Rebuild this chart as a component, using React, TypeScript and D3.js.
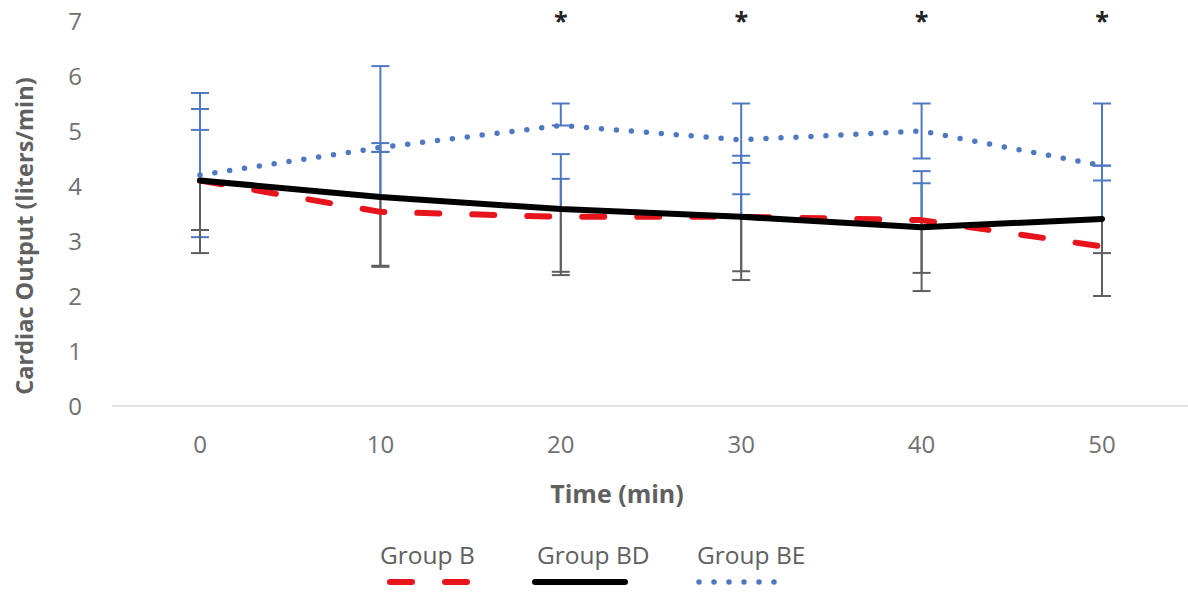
import React from 'react'
import * as d3 from 'd3'

// time points (min)
const times = ['0', '10', '20', '30', '40', '50']

// mean cardiac output per group
const groupB = [4.1, 3.53, 3.44, 3.44, 3.38, 2.9]
const groupBD = [4.1, 3.8, 3.58, 3.44, 3.25, 3.4]
const groupBE = [4.2, 4.7, 5.1, 4.84, 5.0, 4.37]

// error bar ends (upper / lower)
const groupBHi = [5.02, 4.62, 4.58, 4.55, 4.27, 4.37]
const groupBLo = [3.2, 2.53, 2.38, 2.29, 2.42, 2.0]
const groupBDHi = [5.4, 4.78, 4.13, 3.85, 4.05, 4.1]
const groupBDLo = [2.78, 2.55, 2.44, 2.45, 2.09, 2.78]
const groupBEHi = [5.69, 6.18, 5.5, 5.5, 5.5, 5.5]
const groupBELo = [3.07, 4.62, 5.1, 4.42, 4.5, 4.37]

// significance marks
const starTimes = ['20', '30', '40', '50']

const yTicks = [0, 1, 2, 3, 4, 5, 6, 7]

const W = 1188
const H = 595
const BLUE = '#4f78c2'
const GREY = '#5f5f5f'
const TEXT = '#606060'
const FONT = '"Open Sans", "DejaVu Sans", sans-serif'

export default function App() {
  const x = d3.scalePoint<string>().domain(times).range([200, 1102])
  const y = d3.scaleLinear().domain([0, 7]).range([406, 21])

  const line = d3.line<number>()
    .x((d, i) => x(times[i]) as number)
    .y(d => y(d))

  const series = [
    { name: 'Group B', data: groupB, color: '#e8141c', width: 6, dash: '22 33' },
    { name: 'Group BD', data: groupBD, color: '#000000', width: 6, dash: undefined },
    { name: 'Group BE', data: groupBE, color: BLUE, width: 5.5, dash: '0 15' },
  ]

  const capW = 9

  // upper halves of B / BD bars in blue, lower halves in grey, BE bars fully blue
  const bars: React.ReactNode[] = []
  const seg = (key: string, cx: number, v1: number, v2: number, color: string) => {
    bars.push(
      <g key={key} stroke={color} strokeWidth={2}>
        <line x1={cx} x2={cx} y1={y(v1)} y2={y(v2)} />
        <line x1={cx - capW} x2={cx + capW} y1={y(v2)} y2={y(v2)} />
      </g>
    )
  }
  times.forEach((t, i) => {
    const cx = x(t) as number
    seg(`b-up-${i}`, cx, groupB[i], groupBHi[i], BLUE)
    seg(`bd-up-${i}`, cx, groupBD[i], groupBDHi[i], BLUE)
  })
  times.forEach((t, i) => {
    const cx = x(t) as number
    seg(`be-${i}-a`, cx, groupBE[i], groupBEHi[i], BLUE)
    seg(`be-${i}-b`, cx, groupBE[i], groupBELo[i], BLUE)
  })
  times.forEach((t, i) => {
    const cx = x(t) as number
    seg(`b-lo-${i}`, cx, groupB[i], groupBLo[i], GREY)
    seg(`bd-lo-${i}`, cx, groupBD[i], groupBDLo[i], GREY)
  })

  const legendX = [380, 537, 697]
  const legendLine = [[390, 470], [535, 625], [699, 780]]

  return (
    <svg width={W} height={H} style={{ position: 'absolute', left: 0, top: 0, background: '#fff' }}
      fontFamily={FONT}>
      {/* x axis line */}
      <line x1={112} x2={1188} y1={y(0)} y2={y(0)} stroke="#d9d9d9" strokeWidth={1.5} />

      {/* y tick labels */}
      {yTicks.map(t => (
        <text key={t} x={75} y={y(t)} dy="0.36em" textAnchor="middle" fontSize={24} fill="#707070">{t}</text>
      ))}

      {/* x tick labels */}
      {times.map(t => (
        <text key={t} x={x(t)} y={444} dy="0.36em" textAnchor="middle" fontSize={24} fill="#707070">{t}</text>
      ))}

      {/* axis titles */}
      <text transform={`translate(25, 236) rotate(-90)`} textAnchor="middle" dy="0.35em"
        fontSize={23.5} fontWeight="bold" fill={TEXT}>Cardiac Output (liters/min)</text>
      <text x={617} y={494} dy="0.35em" textAnchor="middle" fontSize={25} fontWeight="bold" fill={TEXT}>Time (min)</text>

      {bars}

      {series.map(s => (
        <path key={s.name} d={line(s.data) || ''} fill="none" stroke={s.color} strokeWidth={s.width}
          strokeDasharray={s.dash} strokeLinecap="round" strokeLinejoin="round" />
      ))}

      {/* significance stars */}
      {starTimes.map(t => (
        <text key={t} x={x(t)} y={y(7) + 9} textAnchor="middle" fontSize={25} fontWeight="bold" fill="#222">*</text>
      ))}

      {/* legend */}
      {series.map((s, i) => (
        <g key={s.name}>
          <text x={legendX[i]} y={555} dy="0.35em" fontSize={24.5} fill={TEXT}>{s.name}</text>
          <line x1={legendLine[i][0]} x2={legendLine[i][1]} y1={582} y2={582} stroke={s.color}
            strokeWidth={s.width} strokeDasharray={s.dash} strokeLinecap="round" />
        </g>
      ))}
    </svg>
  )
}
